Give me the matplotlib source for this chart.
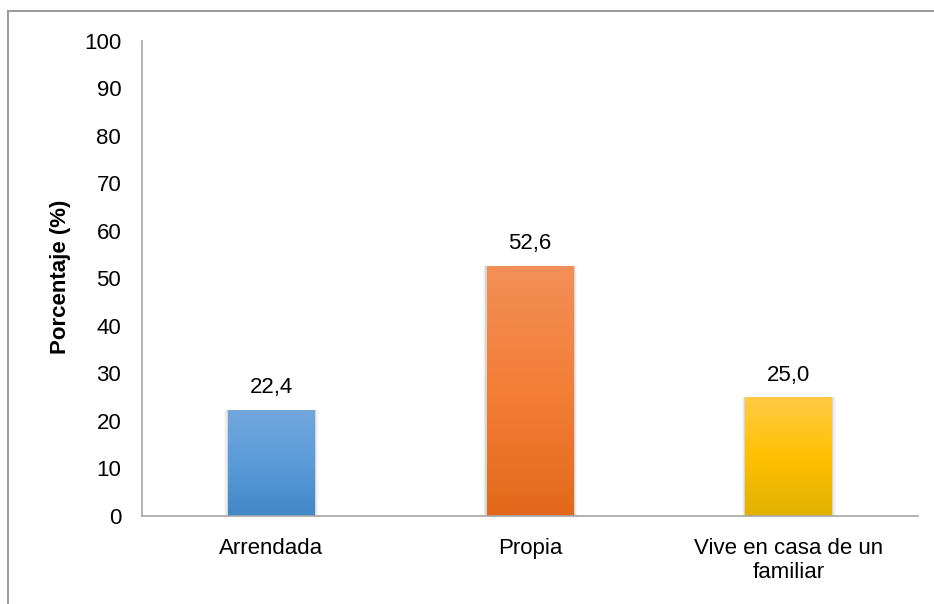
"""Tenencia de vivienda: porcentaje por tipo, barras con degradado al estilo Excel."""
import matplotlib
matplotlib.use("Agg")
import matplotlib.pyplot as plt
import numpy as np
from matplotlib.colors import LinearSegmentedColormap
from matplotlib.lines import Line2D
from matplotlib.patches import Rectangle

categories = ["Arrendada", "Propia", "Vive en casa de un\nfamiliar"]
values = [22.4, 52.6, 25.0]
value_labels = ["22,4", "52,6", "25,0"]
yticks = list(range(0, 101, 10))

# gradient stops per bar, top -> bottom
gradients = [
    ["#72a7dc", "#5a9bd9", "#4287c9"],
    ["#f28f58", "#f47e36", "#e2691b"],
    ["#ffca45", "#ffc000", "#e2b000"],
]

plt.rcParams["font.family"] = ["Liberation Sans", "DejaVu Sans"]

fig = plt.figure(figsize=(9.34, 6.04), dpi=100)
ax = fig.add_axes([0.152, 0.1457, 0.831, 0.7865])

x = np.arange(len(categories))
width = 0.335
bars = ax.bar(x, values, width=width, color="none", zorder=3)

for bar, stops in zip(bars, gradients):
    x0, w, h = bar.get_x(), bar.get_width(), bar.get_height()
    # soft side shadow
    for k, a in enumerate([0.09, 0.05, 0.025]):
        d = 0.005 * (k + 1)
        ax.add_patch(Rectangle((x0 - d, 0), w + 2 * d, h, color="black",
                               alpha=a, lw=0, zorder=1))
    cmap = LinearSegmentedColormap.from_list("g", stops[::-1])
    grad = np.linspace(0, 1, 256).reshape(-1, 1)
    im = ax.imshow(grad, cmap=cmap, aspect="auto", origin="lower",
                   extent=(x0, x0 + w, 0, h), zorder=2)
    im.set_clip_path(bar)

for xi, v, lab in zip(x, values, value_labels):
    ax.annotate(lab, (xi, v), xytext=(0, 16), textcoords="offset points",
                ha="center", va="center", fontsize=16)

ax.set_xlim(-0.5, len(categories) - 0.5)
ax.set_ylim(0, 100)
ax.set_yticks(yticks)
ax.set_xticks(x)
ax.set_xticklabels(categories, fontsize=16, linespacing=1.15)
ax.tick_params(axis="y", length=0, pad=15, labelsize=16)
ax.tick_params(axis="x", length=0, pad=16)

fig.text(61 / 934, 1 - 277 / 604, "Porcentaje (%)", rotation=90, ha="center",
         va="center", fontsize=16, fontweight="bold")

for side in ("top", "right"):
    ax.spines[side].set_visible(False)
for side in ("left", "bottom"):
    ax.spines[side].set_color("#a6a6a6")
    ax.spines[side].set_linewidth(1.2)

# chart area border (left and top edges visible)
fig.add_artist(Line2D([8 / 934, 8 / 934], [0, 1 - 11 / 604], color="#9a9a9a", lw=1.4))
fig.add_artist(Line2D([8 / 934, 1], [1 - 11 / 604, 1 - 11 / 604], color="#9a9a9a", lw=1.4))

fig.savefig("out.png", dpi=100)
